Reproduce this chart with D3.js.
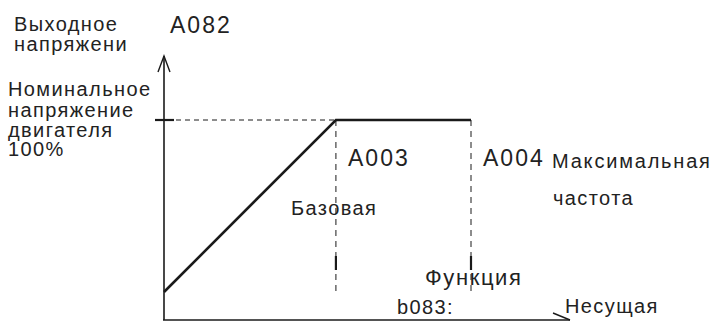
<!DOCTYPE html>
<html>
<head>
<meta charset="utf-8">
<script src="https://cdn.jsdelivr.net/npm/d3@7"></script>
<style>
  body { margin: 0; background: #fff; }
  svg { display: block; }
  text { font-family: "Liberation Sans", Arial, sans-serif; fill: #222; }
</style>
</head>
<body>
<div id="graphic"></div>
<script>
// V/f curve: output voltage (% of rated) vs output frequency (% of max)
var vfFreq = [0, 56, 100];
var vfVolt = [14, 100, 100];
var baseFreq = 56;   // A003
var maxFreq = 100;   // A004
var ratedVolt = 100; // A082

var width = 712, height = 322;

var x = d3.scaleLinear().domain([0, 100]).range([164, 471]);
var y = d3.scaleLinear().domain([0, 100]).range([320, 120]);

var svg = d3.select("#graphic").append("svg")
  .attr("width", width)
  .attr("height", height);

var ink = "#1a1a1a";

// axes
svg.append("line")
  .attr("x1", x(0)).attr("y1", y(0))
  .attr("x2", x(0)).attr("y2", 56)
  .attr("stroke", ink).attr("stroke-width", 1.6);
svg.append("path")
  .attr("d", "M" + (x(0) - 6) + ",72 L" + x(0) + ",56 L" + (x(0) + 6) + ",72")
  .attr("fill", "none").attr("stroke", ink).attr("stroke-width", 1.4);

svg.append("line")
  .attr("x1", x(0) - 1).attr("y1", y(0))
  .attr("x2", 570).attr("y2", y(0))
  .attr("stroke", ink).attr("stroke-width", 1.6);
svg.append("line")
  .attr("x1", 553).attr("y1", 313)
  .attr("x2", 570).attr("y2", y(0))
  .attr("stroke", ink).attr("stroke-width", 1.4);

// rated voltage tick + dashed guide
svg.append("line")
  .attr("x1", x(0) - 9).attr("x2", x(0) + 10)
  .attr("y1", y(ratedVolt)).attr("y2", y(ratedVolt))
  .attr("stroke", ink).attr("stroke-width", 2.2);
svg.append("line")
  .attr("x1", x(0) + 12).attr("x2", x(baseFreq))
  .attr("y1", y(ratedVolt)).attr("y2", y(ratedVolt))
  .attr("stroke", ink).attr("stroke-width", 1)
  .attr("stroke-dasharray", "5,4");

// dashed verticals at base / max frequency
[baseFreq, maxFreq].forEach(function(f) {
  svg.append("line")
    .attr("x1", x(f)).attr("x2", x(f))
    .attr("y1", y(ratedVolt)).attr("y2", 294)
    .attr("stroke", ink).attr("stroke-width", 1)
    .attr("stroke-dasharray", "6,5");
  svg.append("line")
    .attr("x1", x(f)).attr("x2", x(f))
    .attr("y1", 256).attr("y2", 270)
    .attr("stroke", ink).attr("stroke-width", 2.2);
});

// V/f line
var line = d3.line()
  .x(function(d, i) { return x(vfFreq[i]); })
  .y(function(d) { return y(d); });
svg.append("path")
  .datum(vfVolt)
  .attr("d", line)
  .attr("fill", "none")
  .attr("stroke", ink)
  .attr("stroke-width", 2.6);

// labels: text, x, baseline y, font size, letter spacing
var labels = [
  ["Выходное", 14, 31, 20, 1.4],
  ["напряжени", 14, 51, 20, 1.4],
  ["A082", 170, 33, 23, 2],
  ["Номинальное", 8, 96, 20, 1.4],
  ["напряжение", 8, 117, 20, 1.4],
  ["двигателя", 8, 137, 20, 1.4],
  ["100%", 8, 156, 20, 1.4],
  ["A003", 348, 166, 23, 2],
  ["A004", 483, 166, 23, 2],
  ["Максимальная", 552, 168, 20, 1.8],
  ["частота", 553, 205, 20, 1.4],
  ["Базовая", 291, 215, 20, 1.4],
  ["Функция", 425, 285, 22, 1.6],
  ["b083:", 397, 314, 20, 1.4],
  ["Несущая", 565, 313, 20, 1.4]
];
svg.selectAll(".lbl")
  .data(labels)
  .enter().append("text")
  .attr("class", "lbl")
  .attr("x", function(d) { return d[1]; })
  .attr("y", function(d) { return d[2]; })
  .attr("font-size", function(d) { return d[3] + "px"; })
  .attr("letter-spacing", function(d) { return d[4]; })
  .text(function(d) { return d[0]; });
</script>
</body>
</html>
